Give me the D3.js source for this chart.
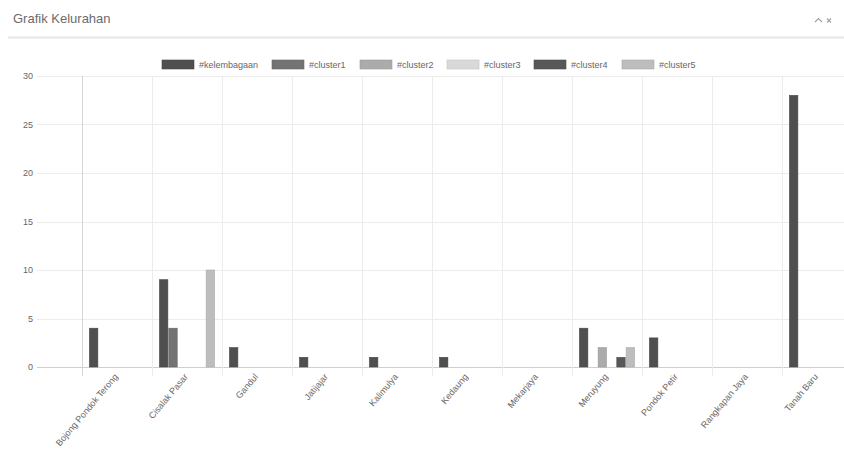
<!DOCTYPE html>
<html>
<head>
<meta charset="utf-8">
<script src="https://cdn.jsdelivr.net/npm/d3@7"></script>
<style>
  html, body { margin: 0; padding: 0; background: #fff; }
  svg { display: block; font-family: "Liberation Sans", Arial, Helvetica, sans-serif; }
</style>
</head>
<body>
<svg id="chart" width="844" height="452"></svg>
<script>
const categories = ["Bojong Pondok Terong", "Cisalak Pasar", "Gandul", "Jatijajar", "Kalimulya", "Kedaung", "Mekarjaya", "Meruyung", "Pondok Petir", "Rangkapan Jaya", "Tanah Baru"];
const seriesNames = ["#kelembagaan", "#cluster1", "#cluster2", "#cluster3", "#cluster4", "#cluster5"];
const kelembagaan = [4, 9, 2, 1, 1, 1, 0, 4, 3, 0, 28];
const cluster1    = [0, 4, 0, 0, 0, 0, 0, 0, 0, 0, 0];
const cluster2    = [0, 0, 0, 0, 0, 0, 0, 2, 0, 0, 0];
const cluster3    = [0, 0, 0, 0, 0, 0, 0, 0, 0, 0, 0];
const cluster4    = [0, 0, 0, 0, 0, 0, 0, 1, 0, 0, 0];
const cluster5    = [0, 10, 0, 0, 0, 0, 0, 2, 0, 0, 0];
const yTicks = [0, 5, 10, 15, 20, 25, 30];
const seriesColors = ["#4f4f4f", "#737373", "#ababab", "#d9d9d9", "#585858", "#bdbdbd"];

const seriesValues = [kelembagaan, cluster1, cluster2, cluster3, cluster4, cluster5];

const svg = d3.select("#chart");

// Panel header
svg.append("text").attr("x", 13).attr("y", 23)
  .attr("font-size", 13).attr("fill", "#6b6b6b").text("Grafik Kelurahan");
svg.append("line").attr("x1", 8).attr("x2", 844).attr("y1", 37.5).attr("y2", 37.5)
  .attr("stroke", "#e5e5e5").attr("stroke-width", 2);
// header icons
svg.append("path").attr("d", "M815,22 L818.5,18.5 L822,22").attr("fill", "none")
  .attr("stroke", "#a0a0a0").attr("stroke-width", 1.1);
svg.append("path").attr("d", "M827,18.5 L831,22.5 M831,18.5 L827,22.5").attr("fill", "none")
  .attr("stroke", "#a0a0a0").attr("stroke-width", 1.1);

// Scales
const plotLeft = 40, plotRight = 844;
const x = d3.scaleBand().domain(categories).range([82, 852]).padding(0);
const xInner = d3.scaleBand().domain(seriesNames).range([7, 63]).paddingInner(0.1).paddingOuter(0.05);
const y = d3.scaleLinear().domain([0, 30]).range([367, 76]);

// Horizontal gridlines
svg.append("g").selectAll("line").data(yTicks).join("line")
  .attr("x1", plotLeft - 3).attr("x2", plotRight)
  .attr("y1", d => Math.round(y(d)) + 0.5).attr("y2", d => Math.round(y(d)) + 0.5)
  .attr("stroke", d => d === 0 ? "#cfcfcf" : "#ececec").attr("stroke-width", 1);

// Vertical gridlines (category boundaries)
svg.append("g").selectAll("line").data(categories).join("line")
  .attr("x1", d => Math.round(x(d)) + 0.5).attr("x2", d => Math.round(x(d)) + 0.5)
  .attr("y1", 76).attr("y2", 376)
  .attr("stroke", (d, i) => i === 0 ? "#d5d5d5" : "#ececec").attr("stroke-width", 1);

// Y axis labels
svg.append("g").selectAll("text").data(yTicks).join("text")
  .attr("x", 33).attr("y", d => y(d)).attr("dy", "0.35em")
  .attr("text-anchor", "end").attr("font-size", 9).attr("fill", "#666").text(d => d);

// Bars
const flat = [];
categories.forEach((c, i) => seriesNames.forEach((s, j) => flat.push({c, s, j, v: seriesValues[j][i]})));
svg.append("g").selectAll("rect").data(flat.filter(d => d.v > 0)).join("rect")
  .attr("x", d => x(d.c) + xInner(d.s))
  .attr("width", xInner.bandwidth())
  .attr("y", d => y(d.v))
  .attr("height", d => y(0) - y(d.v))
  .attr("fill", d => seriesColors[d.j])
  .attr("stroke", d => d3.color(seriesColors[d.j]).darker(0.3))
  .attr("stroke-width", 0.6);

// X axis labels (rotated)
svg.append("g").selectAll("text").data(categories).join("text")
  .attr("transform", d => `translate(${x(d) + x.bandwidth() / 2 - 1},${375}) rotate(-50)`)
  .attr("text-anchor", "end").attr("dy", "0.35em")
  .attr("font-size", 9).attr("fill", "#666").text(d => d);

// Legend
const legendX = [162, 272, 360, 447, 534, 622];
const lg = svg.append("g").selectAll("g").data(seriesNames).join("g")
  .attr("transform", (d, i) => `translate(${legendX[i]},60)`);
lg.append("rect").attr("width", 32).attr("height", 9)
  .attr("fill", (d, i) => seriesColors[i])
  .attr("stroke", (d, i) => d3.color(seriesColors[i]).darker(0.3)).attr("stroke-width", 0.6);
lg.append("text").attr("x", 37).attr("y", 4.5).attr("dy", "0.35em")
  .attr("font-size", 9).attr("fill", "#666").text(d => d);
</script>
</body>
</html>
